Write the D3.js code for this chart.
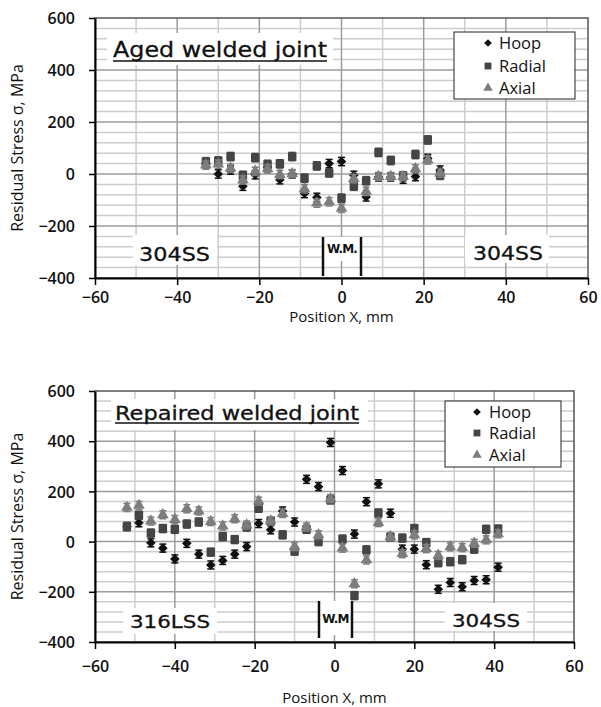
<!DOCTYPE html>
<html>
<head>
<meta charset="utf-8">
<script src="https://cdnjs.cloudflare.com/ajax/libs/d3/7.8.5/d3.min.js"></script>
<style>
  body { margin: 0; background: #fff; }
  svg { display: block; font-family: 'Open Sans', sans-serif; }
</style>
</head>
<body>
<svg id="chart" width="601" height="707"></svg>
<script>
// axis ticks
const xTicks = [-60, -40, -20, 0, 20, 40, 60];
const yTicks = [-400, -200, 0, 200, 400, 600];
const seriesNames = ["Hoop", "Radial", "Axial"];

// aged welded joint (top)
const agedX      = [-33, -30, -27, -24, -21, -18, -15, -12, -9, -6, -3, 0, 3, 6, 9, 12, 15, 18, 21, 24];
const agedHoop   = [40, 0, 15, -47, -3, 25, -22, 0, -75, -90, 40, 48, -5, -88, -12, -12, -20, -10, 60, 15];
const agedRadial = [47, 50, 67, -5, 63, 37, 39, 67, -16, 31, 4, -93, -47, -26, 83, 52, -7, 75, 131, -5];
const agedAxial  = [34, 38, 22, -23, 10, 20, -2, 1, -57, -112, -107, -132, -18, -67, -10, -10, -10, 20, 54, 3];

// repaired welded joint (bottom)
const repX      = [-52, -49, -46, -43, -40, -37, -34, -31, -28, -25, -22, -19, -16, -13, -10, -7, -4, -1, 2, 5, 8, 11, 14, 17, 20, 23, 26, 29, 32, 35, 38, 41];
const repHoop   = [60, 75, -5, -26, -69, -7, -50, -93, -75, -50, -20, 72, 47, 122, 78, 248, 219, 395, 283, 30, 159, 230, 113, -30, -30, -92, -190, -163, -180, -155, -152, -102];
const repRadial = [60, 105, 34, 52, 49, 70, 78, -42, 20, 8, 58, 133, 82, 27, -38, 49, 0, 166, 10, -215, -33, 114, 18, 14, 52, -4, -84, -80, -72, -30, 49, 50];
const repAxial  = [136, 144, 82, 107, 88, 131, 122, 80, 62, 91, 66, 161, 83, 112, -20, 58, 27, 171, -26, -168, -73, 76, 20, -48, 27, -28, -55, -21, -24, -7, 7, 31];

const errBar = 16;

const colors = { Hoop: "#111111", Radial: "#454545", Axial: "#7d7d7d" };
const symbols = {
  Hoop:   { type: d3.symbolSquare, size: 46, rotate: 45 },
  Radial: { type: d3.symbolSquare, size: 72, rotate: 0 },
  Axial:  { type: d3.symbolTriangle, size: 60, rotate: 0 }
};

const svg = d3.select("#chart");

function labelBox(g, b) {
  g.append("rect")
    .attr("x", b.x).attr("y", b.y).attr("width", b.w).attr("height", b.h)
    .attr("fill", "#fff");
  g.append("text")
    .attr("x", b.tx).attr("y", b.ty)
    .attr("font-family", "'DejaVu Sans', sans-serif")
    .attr("font-size", b.fs)
    .attr("textLength", b.tl).attr("lengthAdjust", "spacingAndGlyphs")
    .attr("fill", "#111")
    .attr("stroke", "#111").attr("stroke-width", 0.3)
    .text(b.text);
  if (b.underline) {
    g.append("line")
      .attr("x1", b.tx).attr("x2", b.tx + b.tl)
      .attr("y1", b.underline).attr("y2", b.underline)
      .attr("stroke", "#111").attr("stroke-width", 1.5);
  }
}

function drawPanel(cfg) {
  const g = svg.append("g");
  const x = d3.scaleLinear().domain([-60, 60]).range([cfg.left, cfg.right]);
  const y = d3.scaleLinear().domain([-400, 600]).range([cfg.bottom, cfg.top]);

  // grid
  const minorX = d3.range(-50, 60, 10).filter(v => v % 20 !== 0);
  const majorX = xTicks.slice(1, -1);
  const minorY = d3.range(-360, 600, 40).filter(v => v % 200 !== 0);
  const majorY = yTicks.slice(1, -1);

  g.selectAll(".mx").data(minorX).join("line")
    .attr("x1", d => x(d)).attr("x2", d => x(d))
    .attr("y1", cfg.top).attr("y2", cfg.bottom)
    .attr("stroke", "#cdcdcd").attr("stroke-width", 1.5);
  g.selectAll(".my").data(minorY).join("line")
    .attr("x1", cfg.left).attr("x2", cfg.right)
    .attr("y1", d => y(d)).attr("y2", d => y(d))
    .attr("stroke", "#cdcdcd").attr("stroke-width", 1.5);
  g.selectAll(".Mx").data(majorX).join("line")
    .attr("x1", d => x(d)).attr("x2", d => x(d))
    .attr("y1", cfg.top).attr("y2", cfg.bottom)
    .attr("stroke", "#9c9c9c").attr("stroke-width", 1.5);
  g.selectAll(".My").data(majorY).join("line")
    .attr("x1", cfg.left).attr("x2", cfg.right)
    .attr("y1", d => y(d)).attr("y2", d => y(d))
    .attr("stroke", "#9c9c9c").attr("stroke-width", 1.5);

  // plot border
  g.append("rect")
    .attr("x", cfg.left).attr("y", cfg.top)
    .attr("width", cfg.right - cfg.left).attr("height", cfg.bottom - cfg.top)
    .attr("fill", "none").attr("stroke", "#555").attr("stroke-width", 1.5);

  // annotation boxes (under the data)
  labelBox(g, cfg.title);
  cfg.boxes.forEach(b => labelBox(g, b));

  // weld metal marker
  const wm = cfg.wm;
  g.append("rect").attr("x", wm.x1 + 1).attr("y", wm.y1).attr("width", wm.x2 - wm.x1 - 2).attr("height", wm.bh).attr("fill", "#fff");
  [wm.x1, wm.x2].forEach(xx => {
    g.append("line").attr("x1", xx).attr("x2", xx).attr("y1", wm.y1).attr("y2", wm.y2)
      .attr("stroke", "#111").attr("stroke-width", 2.5);
  });
  g.append("text").attr("x", (wm.x1 + wm.x2) / 2).attr("y", wm.ty)
    .attr("text-anchor", "middle")
    .attr("font-family", "'DejaVu Sans', sans-serif").attr("font-weight", "bold")
    .attr("font-size", 12).attr("letter-spacing", -0.8).attr("fill", "#111")
    .text(wm.text);

  // axes
  const ya = g.append("g").attr("transform", `translate(${cfg.left},0)`)
    .call(d3.axisLeft(y).tickValues(yTicks).tickSize(6).tickSizeOuter(0).tickPadding(14));
  const xa = g.append("g").attr("transform", `translate(0,${cfg.bottom})`)
    .call(d3.axisBottom(x).tickValues(xTicks).tickSize(7).tickSizeOuter(0).tickPadding(4));
  [ya, xa].forEach(a => {
    a.select(".domain").attr("stroke", "#000").attr("stroke-width", 2);
    a.selectAll(".tick line").attr("stroke", "#000").attr("stroke-width", 1.5);
    a.selectAll(".tick text")
      .attr("font-family", "'Open Sans', sans-serif")
      .attr("font-size", 16).attr("font-weight", 600).attr("fill", "#111");
  });
  xa.selectAll(".tick text").attr("y", cfg.xLabelOff).attr("dy", "0.35em");
  ya.selectAll(".tick text").attr("dy", "0.35em");

  g.append("text")
    .attr("x", (x(-60) + x(60)) / 2).attr("y", cfg.xTitleY)
    .attr("text-anchor", "middle").attr("font-size", 15).attr("fill", "#111")
    .text("Position X, mm");
  g.append("text")
    .attr("transform", `translate(23,${(cfg.top + cfg.bottom) / 2}) rotate(-90)`)
    .attr("text-anchor", "middle").attr("font-size", 16).attr("fill", "#111")
    .text("Residual Stress σ, MPa");

  // data: error bars + markers, series order Hoop, Radial, Axial
  cfg.series.forEach(s => {
    const pts = cfg.xs.map((xv, i) => ({ x: xv, v: s.values[i] }));
    const sg = g.append("g");
    const c = colors[s.name];
    sg.selectAll(".eb").data(pts).join("line")
      .attr("x1", d => x(d.x)).attr("x2", d => x(d.x))
      .attr("y1", d => y(d.v - errBar)).attr("y2", d => y(d.v + errBar))
      .attr("stroke", c).attr("stroke-width", 1.5);
    [-errBar, errBar].forEach(e => {
      sg.selectAll(".cap").data(pts).join("line")
        .attr("x1", d => x(d.x) - 3.5).attr("x2", d => x(d.x) + 3.5)
        .attr("y1", d => y(d.v + e)).attr("y2", d => y(d.v + e))
        .attr("stroke", c).attr("stroke-width", 1.5);
    });
    const sym = symbols[s.name];
    sg.selectAll(".pt").data(pts).join("path")
      .attr("d", d3.symbol().type(sym.type).size(sym.size))
      .attr("transform", d => `translate(${x(d.x)},${y(d.v)}) rotate(${sym.rotate})`)
      .attr("fill", c);
  });

  // legend
  const lg = cfg.legend;
  g.append("rect").attr("x", lg.x).attr("y", lg.y).attr("width", lg.w).attr("height", lg.h)
    .attr("fill", "#fff").attr("stroke", "#222").attr("stroke-width", 1);
  seriesNames.forEach((n, i) => {
    const cy = lg.rows[i];
    const sym = symbols[n];
    g.append("path")
      .attr("d", d3.symbol().type(sym.type).size(sym.size * 0.65))
      .attr("transform", `translate(${lg.mx},${cy}) rotate(${sym.rotate})`)
      .attr("fill", colors[n]);
    g.append("text").attr("x", lg.tx).attr("y", cy).attr("dy", "0.35em")
      .attr("font-size", 16.5).attr("fill", "#111").text(n);
  });
}

drawPanel({
  left: 95, right: 588, top: 18, bottom: 278,
  xLabelOff: 19, xTitleY: 322,
  xs: agedX,
  series: [
    { name: "Hoop", values: agedHoop },
    { name: "Radial", values: agedRadial },
    { name: "Axial", values: agedAxial }
  ],
  title: { x: 107, y: 33, w: 226, h: 32, tx: 113, ty: 57, fs: 22, tl: 214, text: "Aged welded joint", underline: 61 },
  boxes: [
    { x: 133, y: 235, w: 84, h: 30, tx: 139, ty: 261, fs: 20, tl: 71, text: "304SS" },
    { x: 465, y: 235, w: 84, h: 28, tx: 473, ty: 260, fs: 20, tl: 70, text: "304SS" }
  ],
  wm: { x1: 323, x2: 361, y1: 237, y2: 276, bh: 24, ty: 253, text: "W.M." },
  legend: { x: 454, y: 32, w: 121, h: 67, mx: 488, tx: 499, rows: [43, 66, 88] }
});

drawPanel({
  left: 95, right: 574, top: 391, bottom: 642,
  xLabelOff: 24, xTitleY: 703,
  xs: repX,
  series: [
    { name: "Hoop", values: repHoop },
    { name: "Radial", values: repRadial },
    { name: "Axial", values: repAxial }
  ],
  title: { x: 111, y: 399, w: 257, h: 31, tx: 115, ty: 420, fs: 19, tl: 244, text: "Repaired welded joint", underline: 423 },
  boxes: [
    { x: 123, y: 608, w: 94, h: 26, tx: 130, ty: 628, fs: 18, tl: 80, text: "316LSS" },
    { x: 445, y: 603, w: 82, h: 28, tx: 452, ty: 627, fs: 18, tl: 68, text: "304SS" }
  ],
  wm: { x1: 319, x2: 352, y1: 601, y2: 638, bh: 34, ty: 623, text: "W.M" },
  legend: { x: 445, y: 401, w: 116, h: 66, mx: 477, tx: 489, rows: [412, 433, 455] }
});
</script>
</body>
</html>
